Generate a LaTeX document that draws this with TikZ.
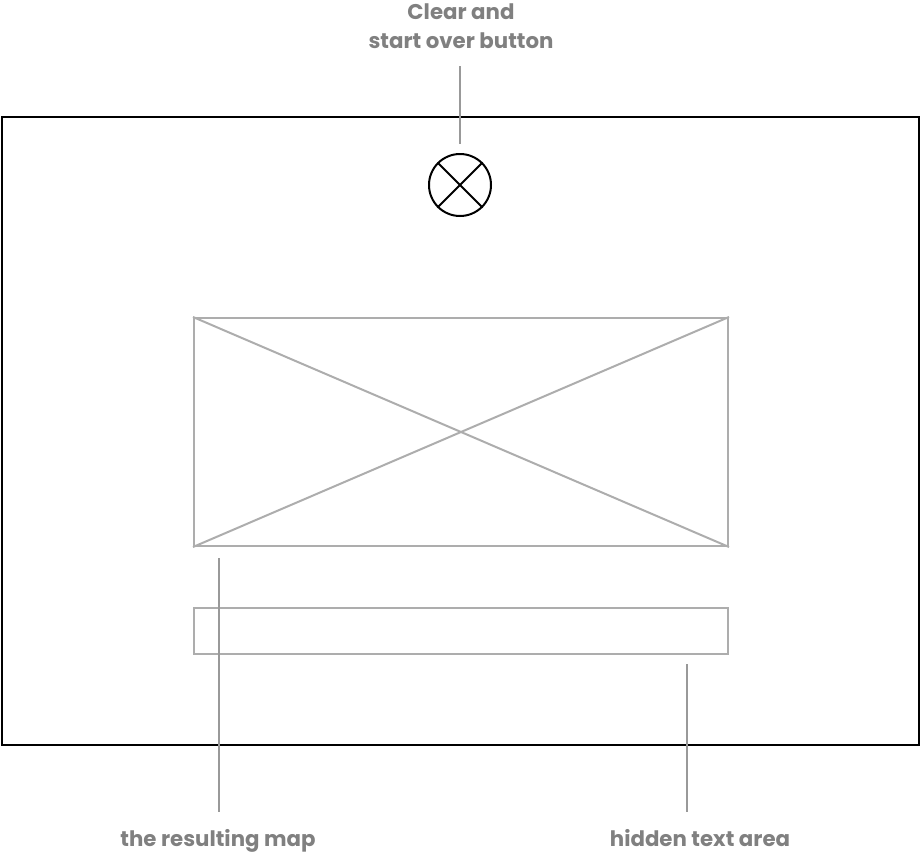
\documentclass[tikz,border=0pt]{standalone}
\usepackage{fontspec}
\setmainfont{Poppins}
\begin{document}
\begin{tikzpicture}[x=1pt,y=-1pt,
  frame/.style={draw=black,line width=2pt},
  wire/.style={draw=black!32,line width=2pt},
  leader/.style={draw=black!40,line width=2pt},
  lbl/.style={text=black!50,font=\fontsize{21.3}{28.5}\selectfont\bfseries,align=center,inner sep=0pt}]
\useasboundingbox (0,0) rectangle (920,854);
\node[frame,rectangle,minimum width=917pt,minimum height=628pt,inner sep=0pt,anchor=north west] (page) at (1,116) {};
\node[draw=black,line width=2pt,circle,minimum size=62pt,inner sep=0pt] (btn) at (460,185) {};
\draw[black,line width=2pt] (btn.north west) -- (btn.south east) (btn.north east) -- (btn.south west);
\node[wire,rectangle,minimum width=534pt,minimum height=228pt,inner sep=0pt,anchor=north west] (map) at (193,317) {};
\draw[wire] (map.north west) -- (map.south east) (map.north east) -- (map.south west);
\node[wire,rectangle,minimum width=534pt,minimum height=46pt,inner sep=0pt,anchor=north west] (txt) at (193,607) {};
\node[lbl,anchor=center] (t1) at (461,26) {Clear and\\start over button};
\node[lbl,anchor=base] (t2) at (218,846) {the resulting map};
\node[lbl,anchor=base] (t3) at (700,846) {hidden text area};
\coordinate (a1) at (460,66); \coordinate (a2) at (460,144);
\coordinate (b1) at (219,558); \coordinate (b2) at (219,812);
\coordinate (c1) at (687,664); \coordinate (c2) at (687,812);
\draw[leader] (a1) -- (a2);
\draw[leader] (b1) -- (b2);
\draw[leader] (c1) -- (c2);
\end{tikzpicture}
\end{document}
